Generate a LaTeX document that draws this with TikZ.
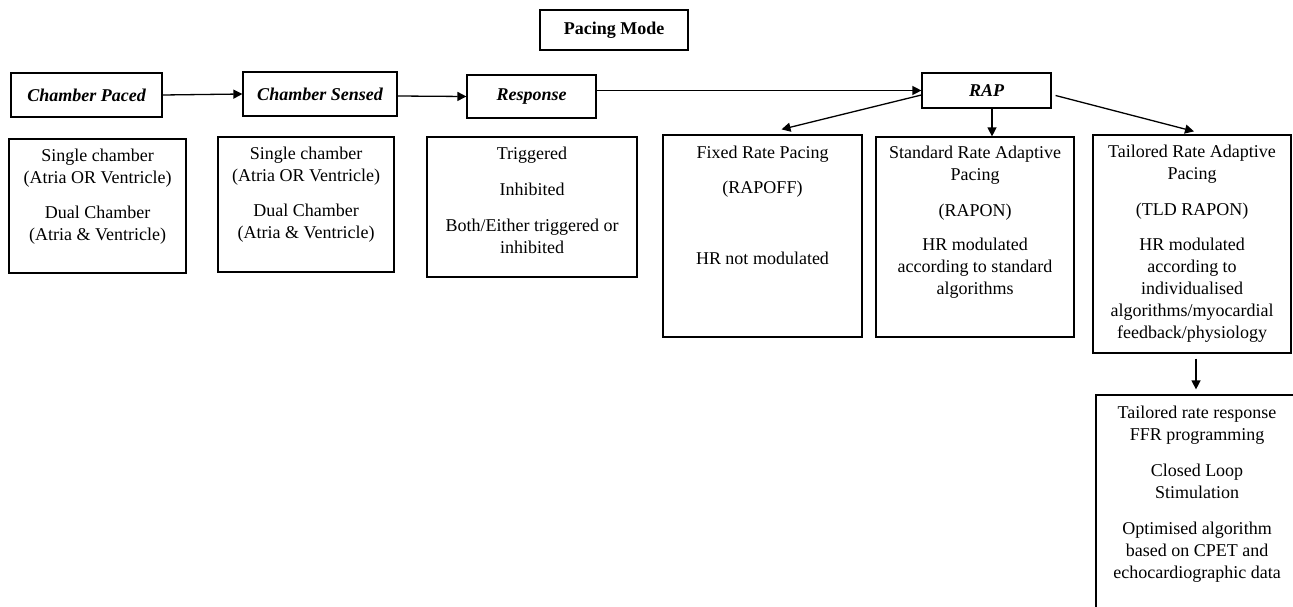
\documentclass[tikz,border=0pt]{standalone}
\usepackage{fontspec}
\setmainfont{Liberation Serif}
\usetikzlibrary{arrows.meta}
\begin{document}
\begin{tikzpicture}[x=1pt,y=-1pt,
  box/.style={draw, line width=1.2pt, rectangle, inner sep=0pt},
  head/.style={box, font=\fontsize{18}{22}\selectfont\bfseries\itshape},
  txt/.style={anchor=north, inner sep=0pt, align=center, font=\fontsize{18}{22}\selectfont},
  arr/.style={-{Triangle[length=9pt,width=9pt]}, line width=1.3pt}]
\clip (0,0) rectangle (1293,607);
% header boxes
\node[box, font=\fontsize{18}{22}\selectfont\bfseries, minimum width=148, minimum height=40] (pm) at (614,30) {Pacing Mode};
\node[head, minimum width=151, minimum height=44] (cp) at (86.5,95) {Chamber Paced};
\node[head, minimum width=154, minimum height=44] (cs) at (320,94) {Chamber Sensed};
\node[head, minimum width=129, minimum height=43] (resp) at (531.5,96.5) {Response};
\node[head, minimum width=129, minimum height=35] (rap) at (986.5,90.5) {RAP};
% body boxes
\node[box, minimum width=177, minimum height=134] (b1) at (97.5,206) {};
\node[box, minimum width=176, minimum height=135] (b2) at (306,204.5) {};
\node[box, minimum width=210, minimum height=140] (b3) at (532,207) {};
\node[box, minimum width=199, minimum height=202] (fix) at (762.5,236) {};
\node[box, minimum width=198, minimum height=200] (std) at (975,237) {};
\node[box, minimum width=198, minimum height=218] (tail) at (1192,244) {};
\node[box, minimum width=202, minimum height=230] (ext) at (1197,510) {};
% texts
\node[txt] (t1) at (97.5,145.6) {\strut Single chamber\\(Atria OR Ventricle)\\[13pt]Dual Chamber\\(Atria \& Ventricle)};
\node[txt] (t2) at (306,143.6) {\strut Single chamber\\(Atria OR Ventricle)\\[13pt]Dual Chamber\\(Atria \& Ventricle)};
\node[txt] (t3) at (532,143.6) {\strut Triggered\\[14pt]Inhibited\\[14pt]Both/Either triggered or\\inhibited};
\node[txt] (t4) at (762.5,142.6) {\strut Fixed Rate Pacing\\[13pt](RAPOFF)\\[49pt]HR not modulated};
\node[txt] (t5) at (975,142.6) {\strut Standard Rate Adaptive\\Pacing\\[14pt](RAPON)\\[12pt]HR modulated\\according to standard\\algorithms};
\node[txt] (t6) at (1192,141.6) {\strut Tailored Rate Adaptive\\Pacing\\[14pt](TLD RAPON)\\[13pt]HR modulated\\according to\\individualised\\algorithms/myocardial\\feedback/physiology};
\node[txt] (t7) at (1197,402.6) {\strut Tailored rate response\\FFR programming\\[14pt]Closed Loop\\Stimulation\\[14pt]Optimised algorithm\\based on CPET and\\echocardiographic data};
% connectors
\draw[arr] (cp.east) -- (cs.west);
\draw[arr] ([yshift=-2pt]cs.east) -- (resp.west);
\draw[arr] (resp.east |- rap.west) -- (rap.west);
\draw[arr] ([yshift=-4.5pt]rap.west) -- ([xshift=19pt,yshift=5pt]fix.north);
\draw[arr] ([xshift=5.5pt]rap.south) -- ([xshift=5.5pt]rap.south |- std.north);
\draw[arr] ([xshift=4pt,yshift=-5pt]rap.east) -- ([xshift=2pt,yshift=3pt]tail.north);
\draw[arr, shorten >=5pt] ([xshift=4pt,yshift=-5pt]tail.south) -- ([xshift=4pt]tail.south |- ext.north);
\end{tikzpicture}
\end{document}
